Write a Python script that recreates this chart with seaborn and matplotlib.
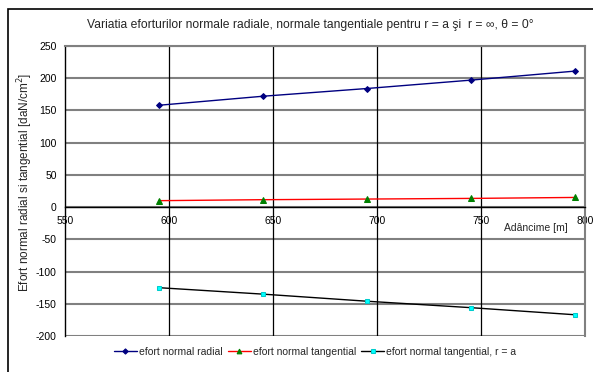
import matplotlib
matplotlib.use("Agg")
import matplotlib.pyplot as plt
from matplotlib.patches import Rectangle
import seaborn as sns
import pandas as pd

# Depth values [m]
depth = [595, 645, 695, 745, 795]
# Stresses [daN/cm^2]
radial = [158, 172, 184, 197, 211]
tangential = [10, 11.5, 12.5, 13.5, 15]
tangential_ra = [-125, -135, -146, -156, -167]

series_names = ["efort normal radial", "efort normal tangential",
                "efort normal tangential, r = a"]
x_ticks = [550, 600, 650, 700, 750, 800]
y_ticks = [-200, -150, -100, -50, 0, 50, 100, 150, 200, 250]

sns.set_style("white")
plt.rcParams["font.family"] = ["Liberation Sans", "DejaVu Sans"]
plt.rcParams["axes.unicode_minus"] = False

df = pd.DataFrame({
    "depth": depth * 3,
    "value": radial + tangential + tangential_ra,
    "series": [series_names[0]] * 5 + [series_names[1]] * 5 + [series_names[2]] * 5,
})

fig = plt.figure(figsize=(5.93, 3.72), dpi=100)
ax = fig.add_axes([65 / 593, 1 - 336 / 372, 520 / 593, 290 / 372])

styles = [
    dict(color="#000080", marker="D", markersize=3.0, mfc="#000080", mec="#000080"),
    dict(color="#FF0000", marker="^", markersize=3.8, mfc="#008000", mec="#008000"),
    dict(color="#000000", marker="s", markersize=3.0, mfc="#00FFFF", mec="#00CCCC"),
]
for name, st in zip(series_names, styles):
    sub = df[df["series"] == name]
    sns.lineplot(data=sub, x="depth", y="value", ax=ax, label=name,
                 linewidth=1.0, **st)

ax.set_xlim(550, 800)
ax.set_ylim(-200, 250)
ax.set_xticks(x_ticks)
ax.set_yticks(y_ticks)
ax.tick_params(axis="both", labelsize=7.5, colors="black", width=0.8)
ax.tick_params(axis="x", direction="inout", length=7, pad=3)
ax.tick_params(axis="y", direction="out", length=4, pad=2)

# Grid: gray horizontal, black vertical
for yv in y_ticks:
    ax.axhline(yv, color="#808080", linewidth=1.5, zorder=0.5)
for xv in x_ticks[1:-1]:
    ax.axvline(xv, color="black", linewidth=0.9, zorder=0.5)

ax.spines["bottom"].set_position(("data", 0))
ax.spines["bottom"].set_color("black")
ax.spines["bottom"].set_linewidth(1.0)
ax.spines["left"].set_color("black")
ax.spines["left"].set_linewidth(1.0)
for s in ("top", "right"):
    ax.spines[s].set_color("#808080")
    ax.spines[s].set_linewidth(1.5)

ax.set_xlabel("Adâncime [m]", fontsize=7.5)
ax.xaxis.set_label_coords(0.905, 0.372)
ax.xaxis.label.set_verticalalignment("center")
ax.set_ylabel("Efort normal radial si tangential [daN/cm$^2$]", fontsize=8.5)
ax.yaxis.set_label_coords(-0.077, 0.531)
ax.yaxis.label.set_verticalalignment("center")

fig.text(310 / 593, 1 - 25 / 372,
         "Variatia eforturilor normale radiale, normale tangentiale pentru r = a şi  r = ∞, θ = 0°",
         ha="center", va="center", fontsize=8.7)

ax.legend(loc="center", bbox_to_anchor=(315 / 593, 1 - 352 / 372), bbox_transform=fig.transFigure,
          ncol=3, frameon=False, fontsize=7.5, handlelength=2.2, handletextpad=0.2,
          columnspacing=0.5, markerscale=0.9, borderpad=0)

fig.patches.append(Rectangle((8 / 593, -0.05), 1.0, 1 - 9 / 372 + 0.05,
                             transform=fig.transFigure, fill=False,
                             edgecolor="black", linewidth=1.2))

fig.savefig("out.png", dpi=100, facecolor="white")
